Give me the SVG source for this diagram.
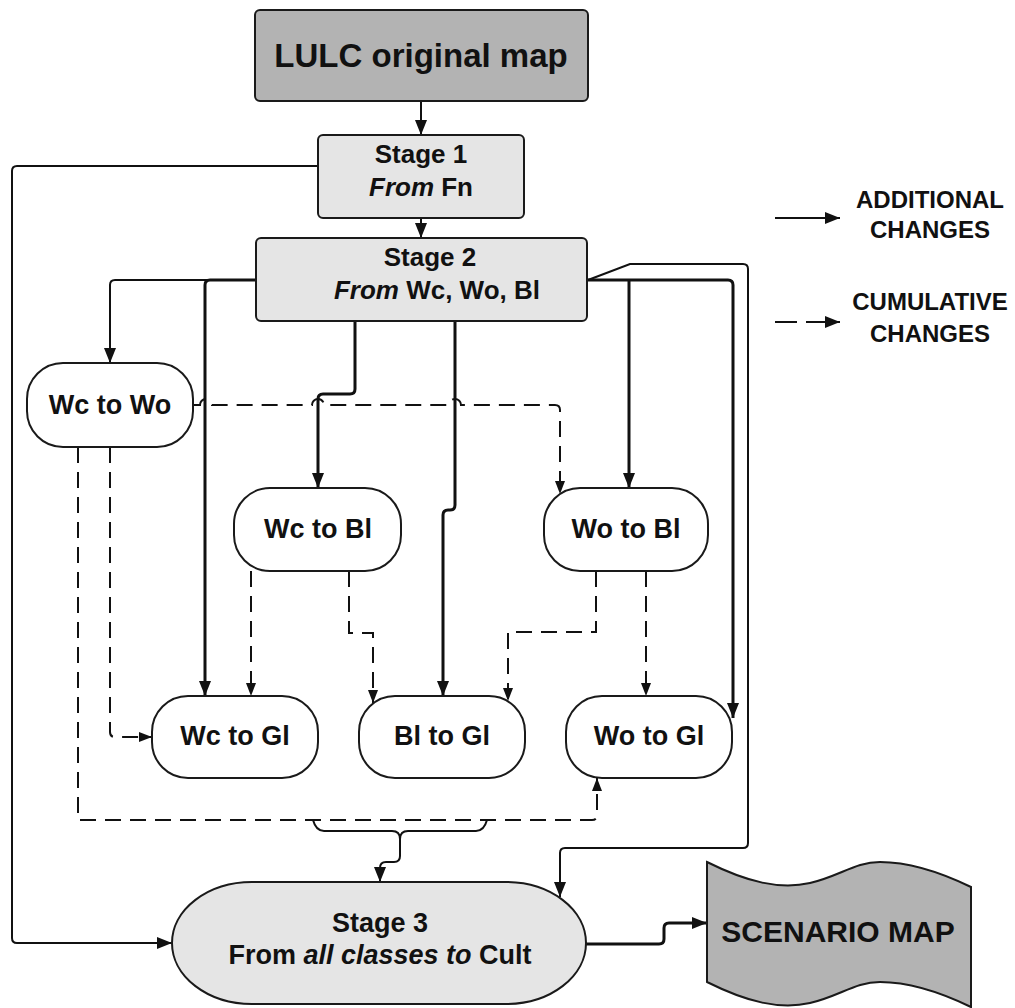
<svg xmlns="http://www.w3.org/2000/svg" width="1015" height="1008" viewBox="0 0 1015 1008">
<style>
.t{font-family:"Liberation Sans",Arial,sans-serif;font-weight:bold;fill:#111;text-anchor:middle}
.dk{fill:#b3b3b3;stroke:#1a1a1a;stroke-width:2}
.lt{fill:#e5e5e5;stroke:#1a1a1a;stroke-width:2}
.wh{fill:#fff;stroke:#1a1a1a;stroke-width:2}
.thin{fill:none;stroke:#111;stroke-width:2}
.thick{fill:none;stroke:#111;stroke-width:3}
.dash{fill:none;stroke:#111;stroke-width:2;stroke-dasharray:16 9}
</style>
<defs>
<marker id="ah" markerUnits="userSpaceOnUse" markerWidth="15" markerHeight="12" refX="15" refY="6" orient="auto"><path d="M0,0 L15,6 L0,12 z" fill="#111"/></marker>
<marker id="as" markerUnits="userSpaceOnUse" markerWidth="13" markerHeight="10" refX="13" refY="5" orient="auto"><path d="M0,0 L13,5 L0,10 z" fill="#111"/></marker>
</defs>
<rect width="1015" height="1008" fill="#fff"/>

<g id="connectors">
<path class="thin" d="M421,101 V135" marker-end="url(#ah)"/>
<path class="thin" d="M421,218 V238" marker-end="url(#ah)"/>
<path class="thin" d="M318,166 H17 Q12,166 12,171 V938 Q12,943 17,943 H172" marker-end="url(#ah)"/>
<path class="thin" d="M256,280 H115 Q110,280 110,285 V363" marker-end="url(#ah)"/>
<path class="thick" d="M256,280 H210 Q205,280 205,285 V696" marker-end="url(#ah)"/>
<path class="thick" d="M355,321 V389 Q355,394 350,394 H323 Q318,394 318,399 V488" marker-end="url(#ah)"/>
<path class="thick" d="M455,321 V505 Q455,510 450,510 H448 Q443,510 443,515 V696" marker-end="url(#ah)"/>
<path class="thick" d="M587,280 H728 Q733,280 733,285 V718" marker-end="url(#ah)"/>
<path class="thick" d="M629,280 V488" marker-end="url(#ah)"/>
<path class="thin" d="M588,280 L630,264 H743 Q748,264 748,269 V843 Q748,848 743,848 H565 Q560,848 560,853 V897" marker-end="url(#ah)"/>
<path class="thick" d="M586,944 H659 Q664,944 664,939 V928 Q664,923 669,923 H707" marker-end="url(#ah)"/>
<path class="thin" d="M313,820 Q316,831 324,831 H392 Q400,831 400,839 V856 Q400,862 394,862 H386 Q380,862 380,868 V882" marker-end="url(#ah)"/>
<path class="thin" d="M487,820 Q484,831 476,831 H408 Q400,831 400,839"/>
<path class="dash" d="M193,405 H200 a6,6 0 0 1 12,0 H312 a6,6 0 0 1 12,0 H449 a6,6 0 0 1 12,0 H555 Q560,405 560,410 V494" marker-end="url(#as)"/>
<path class="dash" d="M110,447 V732 Q110,737 115,737 H152" marker-end="url(#as)"/>
<path class="dash" d="M78,447 V820 H592 Q597,820 597,815 V778" marker-end="url(#as)"/>
<path class="dash" d="M251,571 V696" marker-end="url(#as)"/>
<path class="dash" d="M349,571 V633 H373 V703" marker-end="url(#as)"/>
<path class="dash" d="M596,571 V632 H508 V701" marker-end="url(#as)"/>
<path class="dash" d="M646,571 V696" marker-end="url(#as)"/>
<path class="thin" d="M775,218 H840" marker-end="url(#ah)"/>
<path class="thin" d="M775,322 H797 M806,322 H840" marker-end="url(#ah)"/>
</g>

<g id="lulc"><rect class="dk" x="255" y="10" width="333" height="91" rx="5"/><text class="t" x="421" y="67" font-size="33">LULC original map</text></g>
<g id="stage1"><rect class="lt" x="318" y="135" width="206" height="83" rx="5"/><text class="t" x="421" y="163" font-size="26">Stage 1</text><text class="t" x="421" y="196" font-size="26"><tspan font-style="italic">From</tspan> Fn</text></g>
<g id="stage2"><rect class="lt" x="256" y="238" width="331" height="83" rx="5"/><text class="t" x="430" y="266" font-size="26">Stage 2</text><text class="t" x="437" y="299" font-size="26"><tspan font-style="italic">From</tspan> Wc, Wo, Bl</text></g>
<g id="wc-wo"><rect class="wh" x="27" y="363" width="166" height="84" rx="36"/><text class="t" x="110" y="414" font-size="27">Wc to Wo</text></g>
<g id="wc-bl"><rect class="wh" x="234" y="488" width="167" height="83" rx="36"/><text class="t" x="318" y="538" font-size="27">Wc to Bl</text></g>
<g id="wo-bl"><rect class="wh" x="544" y="488" width="164" height="83" rx="36"/><text class="t" x="626" y="538" font-size="27">Wo to Bl</text></g>
<g id="wc-gl"><rect class="wh" x="152" y="696" width="166" height="82" rx="36"/><text class="t" x="235" y="745" font-size="27">Wc to Gl</text></g>
<g id="bl-gl"><rect class="wh" x="359" y="696" width="166" height="82" rx="36"/><text class="t" x="442" y="745" font-size="27">Bl to Gl</text></g>
<g id="wo-gl"><rect class="wh" x="566" y="696" width="166" height="82" rx="36"/><text class="t" x="649" y="745" font-size="27">Wo to Gl</text></g>
<g id="stage3"><rect class="lt" x="172" y="882" width="414" height="122" rx="80" ry="61"/><text class="t" x="380" y="932" font-size="27">Stage 3</text><text class="t" x="380" y="964" font-size="27">From <tspan font-style="italic">all classes to</tspan> Cult</text></g>
<g id="scenario"><path class="dk" d="M707,862 C747,882 780,890 810,883 C840,876 855,862 880,862 C910,862 940,872 971,887 V1007 C940,992 910,982 880,982 C855,982 840,996 810,1003 C780,1010 747,1002 707,982 Z"/><text class="t" x="838" y="942" font-size="30">SCENARIO MAP</text></g>
<g id="legend"><text class="t" x="930" y="208" font-size="24">ADDITIONAL</text><text class="t" x="930" y="238" font-size="24">CHANGES</text><text class="t" x="930" y="310" font-size="24">CUMULATIVE</text><text class="t" x="930" y="342" font-size="24">CHANGES</text></g>
</svg>
